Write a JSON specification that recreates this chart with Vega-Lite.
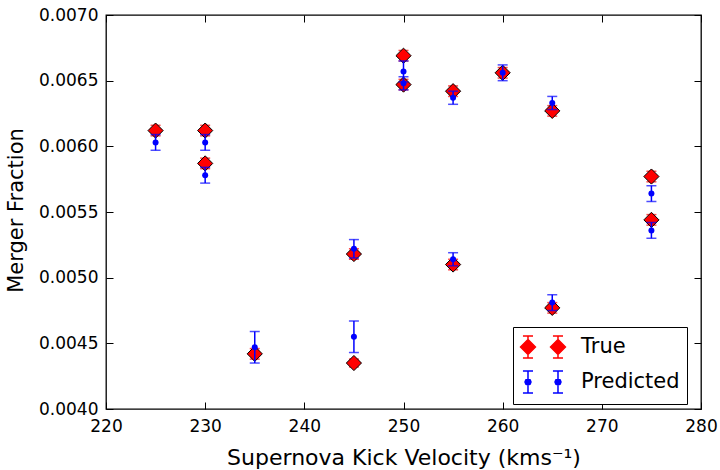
{
  "$schema": "https://vega.github.io/schema/vega-lite/v6.json",
  "autosize": {"type": "none"},
  "width": 595,
  "height": 394,
  "padding": {"left": 106, "top": 15, "right": 19, "bottom": 61},
  "background": "white",
  "data": {
    "values": [
      {"v": 225, "series": "True", "frac": 0.00612, "err": 0.00004},
      {"v": 230, "series": "True", "frac": 0.00612, "err": 0.00004},
      {"v": 230, "series": "True", "frac": 0.00587, "err": 0.00004},
      {"v": 235, "series": "True", "frac": 0.00442, "err": 0.00004},
      {"v": 245, "series": "True", "frac": 0.00435, "err": 0.00003},
      {"v": 245, "series": "True", "frac": 0.00518, "err": 0.00004},
      {"v": 250, "series": "True", "frac": 0.00669, "err": 0.00004},
      {"v": 250, "series": "True", "frac": 0.00647, "err": 0.00004},
      {"v": 255, "series": "True", "frac": 0.00642, "err": 0.00004},
      {"v": 255, "series": "True", "frac": 0.00510, "err": 0.00004},
      {"v": 260, "series": "True", "frac": 0.00656, "err": 0.00004},
      {"v": 265, "series": "True", "frac": 0.00627, "err": 0.00004},
      {"v": 265, "series": "True", "frac": 0.00477, "err": 0.00004},
      {"v": 275, "series": "True", "frac": 0.00577, "err": 0.00004},
      {"v": 275, "series": "True", "frac": 0.00544, "err": 0.00004},
      {"v": 225, "series": "Predicted", "frac": 0.00603, "err": 0.00006},
      {"v": 230, "series": "Predicted", "frac": 0.00603, "err": 0.00006},
      {"v": 230, "series": "Predicted", "frac": 0.00578, "err": 0.00006},
      {"v": 235, "series": "Predicted", "frac": 0.00447, "err": 0.00012},
      {"v": 245, "series": "Predicted", "frac": 0.00455, "err": 0.00012},
      {"v": 245, "series": "Predicted", "frac": 0.00522, "err": 0.00007},
      {"v": 250, "series": "Predicted", "frac": 0.00657, "err": 0.00008},
      {"v": 250, "series": "Predicted", "frac": 0.00648, "err": 0.00005},
      {"v": 255, "series": "Predicted", "frac": 0.00637, "err": 0.00005},
      {"v": 255, "series": "Predicted", "frac": 0.00514, "err": 0.00005},
      {"v": 260, "series": "Predicted", "frac": 0.00656, "err": 0.00006},
      {"v": 265, "series": "Predicted", "frac": 0.00633, "err": 0.00005},
      {"v": 265, "series": "Predicted", "frac": 0.00481, "err": 0.00006},
      {"v": 275, "series": "Predicted", "frac": 0.00564, "err": 0.00006},
      {"v": 275, "series": "Predicted", "frac": 0.00536, "err": 0.00006}
    ]
  },
  "encoding": {
    "x": {"field": "v", "type": "quantitative", "scale": {"domain": [220, 280], "nice": false, "zero": false}, "axis": null},
    "y": {"field": "frac", "type": "quantitative", "scale": {"domain": [0.004, 0.007], "nice": false, "zero": false}, "axis": null}
  },
  "resolve": {"axis": {"x": "independent", "y": "independent"}},
  "layer": [
    {
      "transform": [{"filter": "datum.series === 'True'"}],
      "mark": {"type": "errorbar", "color": "#ff0000", "thickness": 1.5, "ticks": {"size": 10, "thickness": 1.5}},
      "encoding": {"yError": {"field": "err"}}
    },
    {
      "transform": [{"filter": "datum.series === 'True'"}],
      "mark": {"type": "point", "shape": "diamond", "size": 230, "filled": true, "color": "#ff0000", "stroke": "black", "strokeWidth": 1, "opacity": 1},
      "encoding": {
        "x": {"field": "v", "type": "quantitative", "scale": {"domain": [220, 280], "nice": false, "zero": false},
          "axis": {"orient": "bottom", "values": [220, 230, 240, 250, 260, 270, 280], "title": "Supernova Kick Velocity (kms⁻¹)", "titleFontSize": 22, "titleFontWeight": "normal", "titleColor": "black", "titleBaseline": "alphabetic", "titleY": 55, "labelPadding": 16}},
        "y": {"field": "frac", "type": "quantitative", "scale": {"domain": [0.004, 0.007], "nice": false, "zero": false},
          "axis": {"orient": "left", "values": [0.004, 0.0045, 0.005, 0.0055, 0.006, 0.0065, 0.007], "format": ".4f", "title": "Merger Fraction", "titleFontSize": 21, "titleFontWeight": "normal", "titleColor": "black", "titleAngle": -90, "titleBaseline": "alphabetic", "titleAlign": "center", "titleX": -84, "titleY": 195, "labelPadding": 15}}
      }
    },
    {
      "transform": [{"filter": "datum.series === 'Predicted'"}],
      "mark": {"type": "errorbar", "color": "#0000ff", "thickness": 1.5, "ticks": {"size": 10, "thickness": 1.5}},
      "encoding": {"yError": {"field": "err"}}
    },
    {
      "transform": [{"filter": "datum.series === 'Predicted'"}],
      "mark": {"type": "point", "shape": "circle", "size": 36, "filled": true, "color": "#0000ff", "opacity": 1, "strokeWidth": 0},
      "encoding": {
        "x": {"field": "v", "type": "quantitative", "scale": {"domain": [220, 280], "nice": false, "zero": false},
          "axis": {"orient": "top", "values": [220, 230, 240, 250, 260, 270, 280], "labels": false, "title": null}},
        "y": {"field": "frac", "type": "quantitative", "scale": {"domain": [0.004, 0.007], "nice": false, "zero": false},
          "axis": {"orient": "right", "values": [0.004, 0.0045, 0.005, 0.0055, 0.006, 0.0065, 0.007], "labels": false, "title": null}}
      }
    },
    {
      "mark": {"type": "point", "size": 576, "filled": true, "opacity": 0, "strokeWidth": 1.5},
      "encoding": {
        "fill": {"field": "series", "type": "nominal", "scale": {"domain": ["True", "Predicted"], "range": ["#ff0000", "#0000ff"]},
          "legend": {"orient": "none", "legendX": 407, "legendY": 312, "title": null, "symbolSize": 576, "symbolOpacity": 1, "symbolStrokeWidth": 1.5, "labelFontSize": 21, "labelFont": "DejaVu Sans", "labelColor": "black", "labelOffset": 35, "rowPadding": 5, "padding": 7, "strokeColor": "black", "fillColor": "white", "cornerRadius": 0}},
        "stroke": {"field": "series", "type": "nominal", "scale": {"domain": ["True", "Predicted"], "range": ["#ff0000", "#0000ff"]},
          "legend": {"orient": "none", "legendX": 407, "legendY": 312, "title": null, "symbolSize": 576, "symbolOpacity": 1, "symbolStrokeWidth": 1.5, "labelFontSize": 21, "labelFont": "DejaVu Sans", "labelColor": "black", "labelOffset": 35, "rowPadding": 5, "padding": 7, "strokeColor": "black", "fillColor": "white", "cornerRadius": 0}},
        "shape": {"field": "series", "type": "nominal", "scale": {"domain": ["True", "Predicted"], "range": [
            "M-0.417,-0.92L-0.417,0.92M-0.837,-0.92L0.003,-0.92M-0.837,0.92L0.003,0.92M-0.417,-0.62L0.203,0L-0.417,0.62L-1.037,0ZM2.083,-0.92L2.083,0.92M1.663,-0.92L2.503,-0.92M1.663,0.92L2.503,0.92M2.083,-0.62L2.703,0L2.083,0.62L1.463,0Z",
            "M-0.417,-0.92L-0.417,0.92M-0.837,-0.92L0.003,-0.92M-0.837,0.92L0.003,0.92M-0.167,0L-0.24,0.177L-0.417,0.25L-0.594,0.177L-0.667,0L-0.594,-0.177L-0.417,-0.25L-0.24,-0.177ZM2.083,-0.92L2.083,0.92M1.663,-0.92L2.503,-0.92M1.663,0.92L2.503,0.92M2.333,0L2.26,0.177L2.083,0.25L1.906,0.177L1.833,0L1.906,-0.177L2.083,-0.25L2.26,-0.177Z"]},
          "legend": {"orient": "none", "legendX": 407, "legendY": 312, "title": null, "symbolSize": 576, "symbolOpacity": 1, "symbolStrokeWidth": 1.5, "labelFontSize": 21, "labelFont": "DejaVu Sans", "labelColor": "black", "labelOffset": 35, "rowPadding": 5, "padding": 7, "strokeColor": "black", "fillColor": "white", "cornerRadius": 0}}
      }
    }
  ],
  "config": {
    "font": "DejaVu Sans",
    "view": {"stroke": "black", "strokeWidth": 1.3},
    "axis": {
      "grid": false,
      "domain": false,
      "ticks": true,
      "tickSize": -7,
      "tickColor": "black",
      "tickWidth": 1,
      "labelFlush": false,
      "labelFont": "DejaVu Sans",
      "labelFontSize": 17,
      "labelColor": "black",
      "titleFont": "DejaVu Sans"
    }
  }
}
